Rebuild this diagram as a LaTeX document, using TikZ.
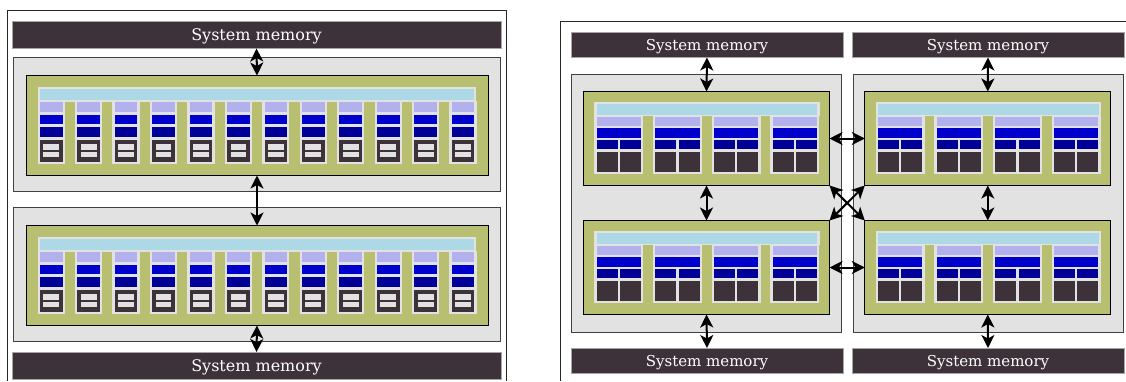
\documentclass[tikz,border=0pt]{standalone}
\usepackage{fontspec}
\setmainfont{DejaVu Serif}
\usetikzlibrary{arrows.meta}
\definecolor{barc}{HTML}{3D3239}
\definecolor{panelc}{HTML}{E2E2E2}
\definecolor{greenc}{HTML}{B8BF70}
\definecolor{cachec}{HTML}{ADD8E6}
\definecolor{lavc}{HTML}{B3B0EE}
\definecolor{bluec}{HTML}{0000CD}
\definecolor{dbluec}{HTML}{000099}
\tikzset{
  bx/.style={rectangle,inner sep=0pt,outer sep=0pt},
  membar/.style={bx,fill=barc,draw=black!35,line width=.7pt,text=white},
  bigmem/.style={membar,font=\fontsize{16}{18}\selectfont,text height=11.4pt,text depth=0pt},
  smallmem/.style={membar,font=\fontsize{15}{17}\selectfont,text height=10.6pt,text depth=0pt},
  panel/.style={bx,fill=panelc,draw=black!75,line width=1pt},
  chip/.style={bx,fill=greenc,draw=black,line width=1pt},
  lightbox/.style={bx,fill=panelc},
  cachebar/.style={bx,fill=cachec},
  lav/.style={bx,fill=lavc},
  blu/.style={bx,fill=bluec},
  dblu/.style={bx,fill=dbluec},
  dark/.style={bx,fill=barc},
  slot/.style={bx,fill=panelc},
  frameline/.style={draw=black!85,line width=1pt},
  link/.style={{Stealth[length=13pt,width=13pt,inset=3.5pt]}-{Stealth[length=13pt,width=13pt,inset=3.5pt]},line width=2pt,black}
}
\newcommand\bxn[7]{\node[#2,minimum width={((#5)-(#3))*1pt},minimum height={((#6)-(#4))*1pt}] (#1) at ({((#3)+(#5))/2},{((#4)+(#6))/2}) {#7};}
\newcommand\widechip[2]{%
  \begin{scope}[shift={(0,#2)}]
  \bxn{#1p}{panel}{13.5}{57}{500.5}{191}{}
  \bxn{#1g}{chip}{26}{75.5}{488}{175.5}{}
  \bxn{#1t}{lightbox}{37.5}{87.3}{476}{101.5}{}
  \bxn{#1c}{cachebar}{40}{89.3}{473.7}{99.7}{}
  \foreach \i in {0,...,11}{
    \pgfmathsetmacro\xx{37.5+37.45*\i}
    \bxn{#1s\i}{lightbox}{\xx}{101}{\xx+27.2}{164}{}
    \bxn{#1a\i}{lav}{\xx+2.3}{102}{\xx+25}{112}{}
    \bxn{#1b\i}{blu}{\xx+2.3}{114.5}{\xx+25}{124}{}
    \bxn{#1d\i}{dblu}{\xx+2.3}{127}{\xx+25}{136.7}{}
    \bxn{#1e\i}{dark}{\xx+2.3}{140}{\xx+25}{161.7}{}
    \bxn{#1f\i}{slot}{\xx+5.8}{144.3}{\xx+21.6}{149.7}{}
    \bxn{#1h\i}{slot}{\xx+5.8}{151.8}{\xx+21.6}{157.2}{}
  }
  \end{scope}}
\newcommand\quadchip[3]{%
  \begin{scope}[shift={(#2,#3)}]
  \bxn{#1g}{chip}{583.5}{91.5}{829.5}{185.5}{}
  \bxn{#1t}{lightbox}{594.3}{102.3}{819.5}{116}{}
  \bxn{#1c}{cachebar}{596.7}{104.3}{817.2}{114.5}{}
  \foreach \i in {0,...,3}{
    \pgfmathsetmacro\xx{594.3+58.7*\i}
    \bxn{#1s\i}{lightbox}{\xx}{115}{\xx+49}{174.3}{}
    \bxn{#1a\i}{lav}{\xx+2.4}{116.7}{\xx+46.7}{125.5}{}
    \bxn{#1b\i}{blu}{\xx+2.4}{127.7}{\xx+46.7}{137.7}{}
    \bxn{#1d\i}{dblu}{\xx+2.4}{140}{\xx+23.2}{149.3}{}
    \bxn{#1e\i}{dblu}{\xx+25.6}{140}{\xx+46.7}{149.3}{}
    \bxn{#1f\i}{dark}{\xx+2.4}{151.7}{\xx+23.2}{172}{}
    \bxn{#1h\i}{dark}{\xx+25.6}{151.7}{\xx+46.7}{172}{}
  }
  \end{scope}}
\begin{document}
\begin{tikzpicture}[x=1pt,y=-1pt]
\useasboundingbox (0,0) rectangle (1126,381);
\fill[white] (0,0) rectangle (1126,381);
\draw[frameline] (7,381) -- (7,10.5) -- (506,10.5) -- (506,381);
\draw[frameline] (560.5,381) -- (560.5,21) -- (1126,21);
\bxn{LM1}{bigmem}{12}{21.5}{501}{48.5}{System memory}
\bxn{LM2}{bigmem}{12}{352}{501}{379}{System memory}
\widechip{A}{0}
\widechip{B}{150}
\draw[link] (LM1.south) -- (Ag.north);
\draw[link] (Ag.south) -- (Bg.north);
\draw[link] (LM2.north) -- (Bg.south);
\bxn{RM1}{smallmem}{571}{32}{843}{57.5}{System memory}
\bxn{RM2}{smallmem}{852}{32}{1124}{57.5}{System memory}
\bxn{RM3}{smallmem}{571}{348}{843}{373.5}{System memory}
\bxn{RM4}{smallmem}{852}{348}{1124}{373.5}{System memory}
\bxn{P1}{panel}{571.5}{74}{841.5}{332}{}
\bxn{P2}{panel}{853}{74}{1123}{332}{}
\quadchip{C}{0}{0}
\quadchip{D}{281.3}{0}
\quadchip{E}{0}{129}
\quadchip{F}{281.3}{129}
\draw[link] (RM1.south) -- (Cg.north);
\draw[link] (RM2.south) -- (Dg.north);
\draw[link] (RM3.north) -- (Eg.south);
\draw[link] (RM4.north) -- (Fg.south);
\draw[link] (Cg.south) -- (Eg.north);
\draw[link] (Dg.south) -- (Fg.north);
\draw[link] (Cg.east) -- (Dg.west);
\draw[link] (Eg.east) -- (Fg.west);
\draw[link] (Cg.south east) -- (Fg.north west);
\draw[link] (Dg.south west) -- (Eg.north east);
\end{tikzpicture}
\end{document}
